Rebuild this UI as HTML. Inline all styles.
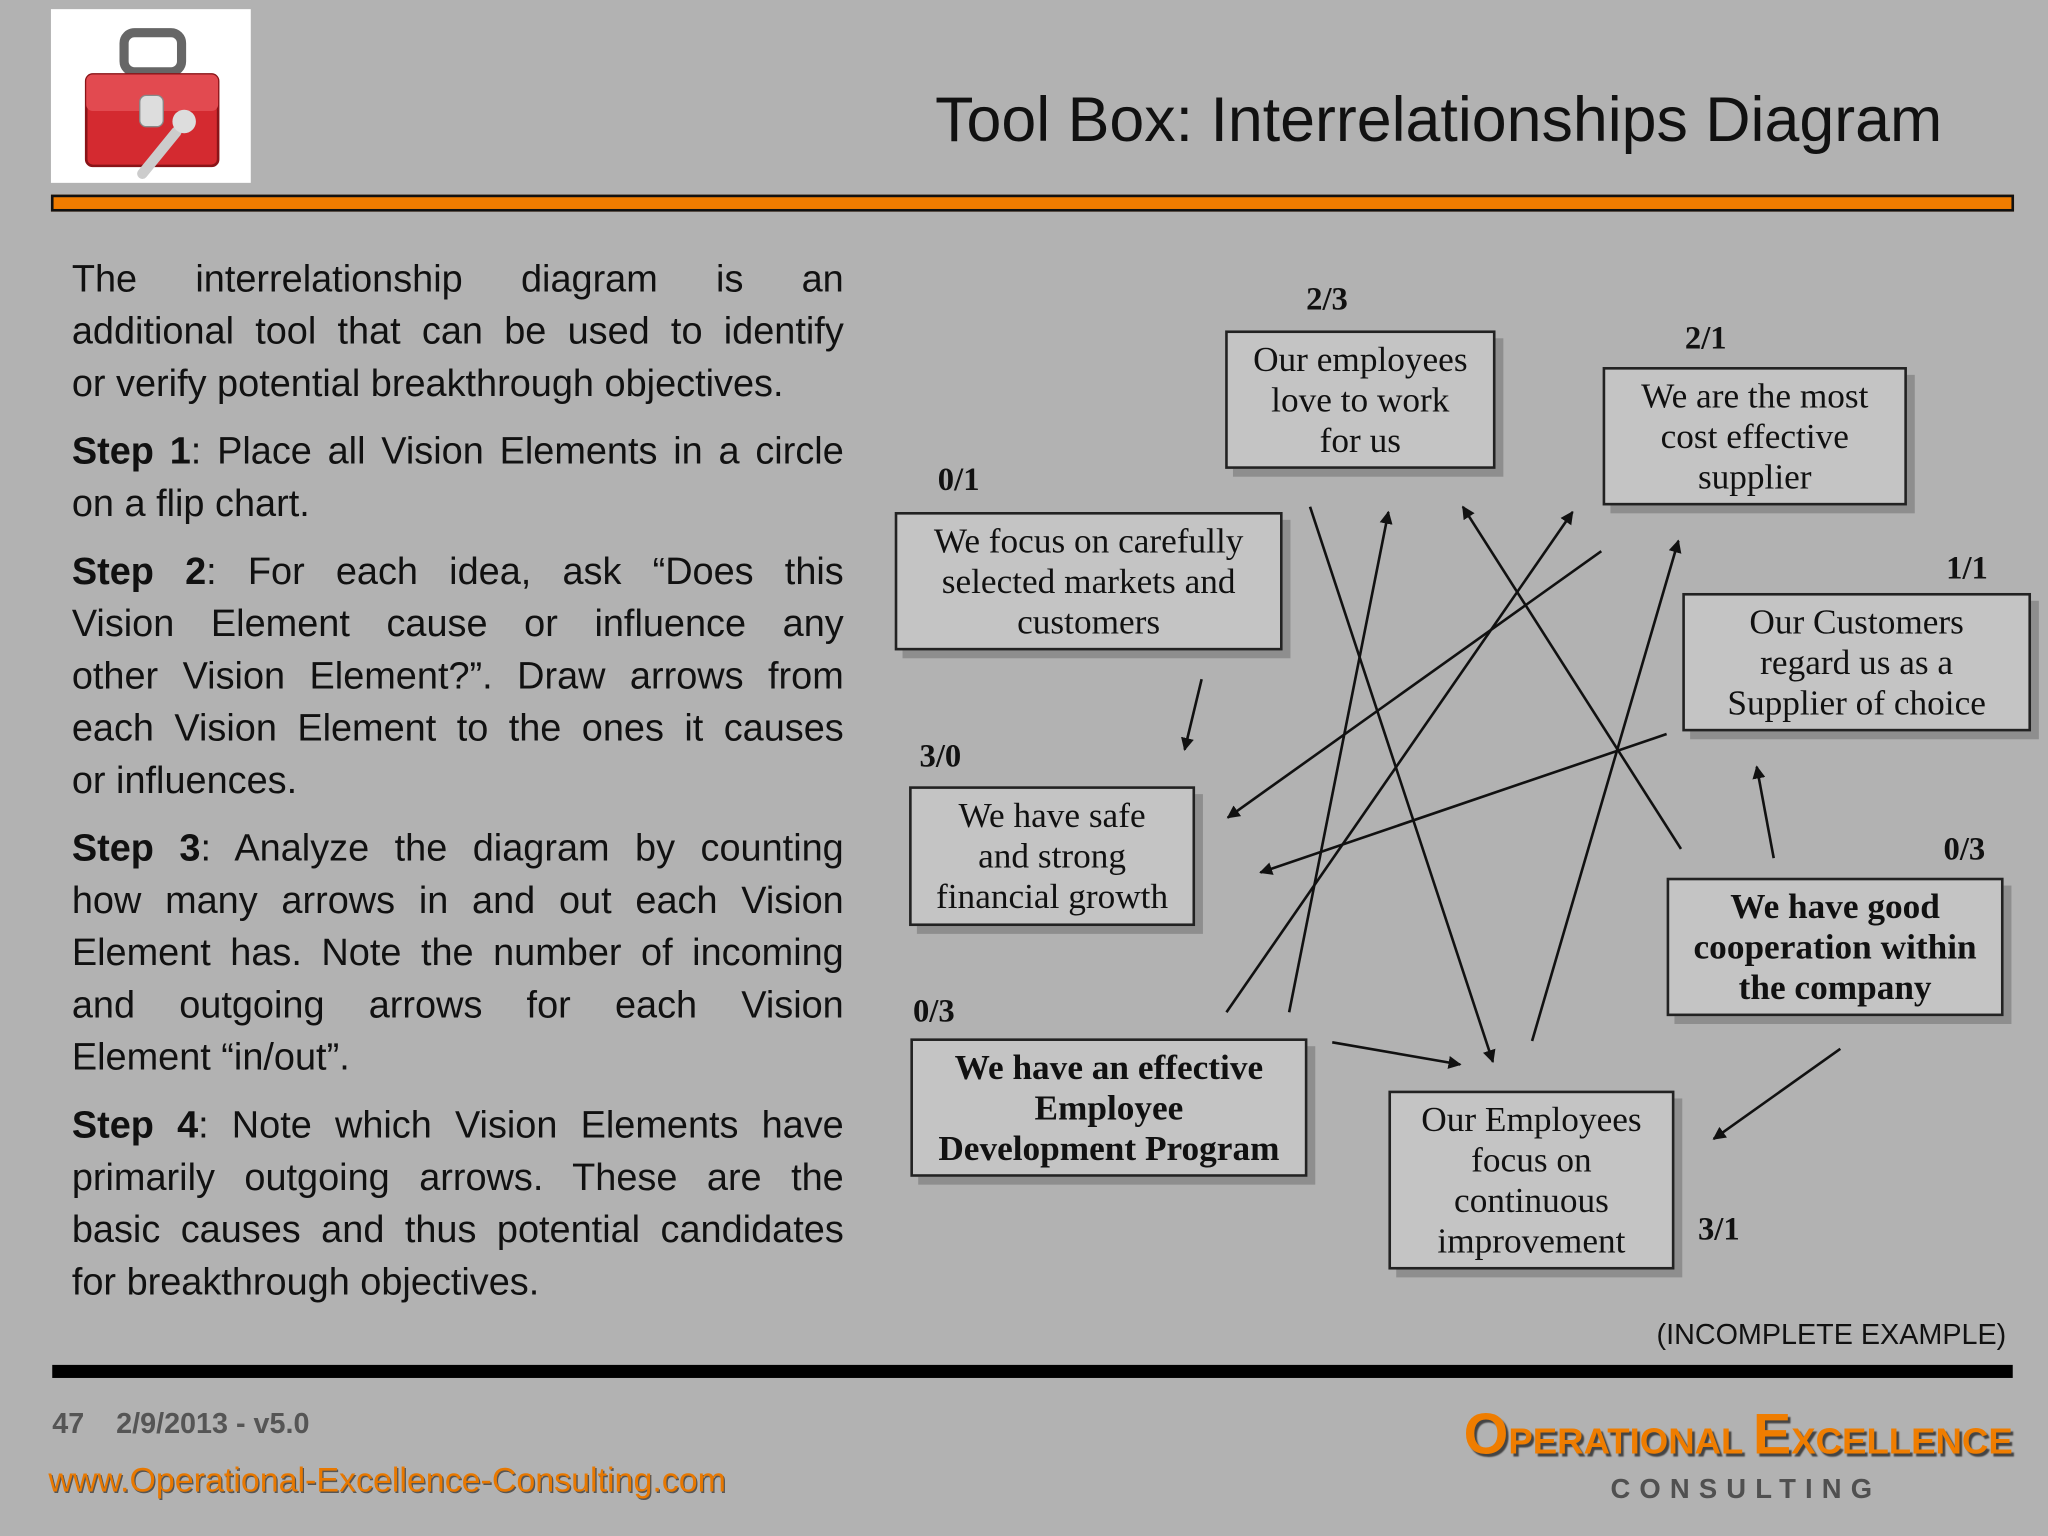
<!DOCTYPE html>
<html><head><meta charset="utf-8"><style>
html,body{margin:0;padding:0;background:#b2b2b2;width:2048px;height:1536px;overflow:hidden}
#w{position:absolute;left:0;top:0;width:1568px;height:1176px;transform:scale(1.306122);transform-origin:0 0;font-family:"Liberation Sans",sans-serif}
.abs{position:absolute}
#txt{left:55px;top:194px;width:591px;font-size:29px;line-height:40px;color:#111}
#txt p{margin:0 0 12px 0}
#txt .j{display:block;text-align:justify;text-align-last:justify;white-space:nowrap}
#txt .l{display:block;white-space:nowrap}
.box{position:absolute;background:#c4c4c4;border:2px solid #222;box-shadow:6px 6px 0 #8e8e8e;box-sizing:border-box;font-family:"Liberation Serif",serif;font-size:27px;line-height:31px;text-align:center;display:flex;align-items:center;justify-content:center;color:#111}
.b{font-weight:bold}
.lab{position:absolute;font-family:"Liberation Serif",serif;font-weight:bold;font-size:25px;color:#111}
</style></head><body><div id="w">
<div class="abs" style="left:39px;top:7px;width:153px;height:133px;background:#fff"></div>
<svg class="abs" style="left:39px;top:7px" width="153" height="133" viewBox="0 0 153 133">
<rect x="56" y="18" width="44" height="30" rx="8" fill="none" stroke="#666" stroke-width="7"/>
<rect x="27" y="50" width="101" height="70" rx="5" fill="#d42a30" stroke="#8a1418" stroke-width="2"/>
<rect x="27" y="50" width="101" height="28" rx="5" fill="#e24a50"/>
<rect x="68" y="66" width="18" height="24" rx="5" fill="#ddd" stroke="#888"/>
<line x1="96" y1="94" x2="70" y2="126" stroke="#ccc" stroke-width="8" stroke-linecap="round"/>
<circle cx="102" cy="86" r="9" fill="#ddd"/>
</svg>
<div class="abs" style="right:81px;top:65px;font-size:48px;color:#111">Tool Box: Interrelationships Diagram</div>
<div class="abs" style="left:39px;top:149px;width:1499px;height:9px;background:#f07c00;border:2px solid #111"></div>
<div id="txt" class="abs">
<p><span class="j">The interrelationship diagram is an</span><span class="j">additional tool that can be used to identify</span><span class="l">or verify potential breakthrough objectives.</span></p>
<p><span class="j"><b>Step 1</b>: Place all Vision Elements in a circle</span><span class="l">on a flip chart.</span></p>
<p><span class="j"><b>Step 2</b>: For each idea, ask “Does this</span><span class="j">Vision Element cause or influence any</span><span class="j">other Vision Element?”. Draw arrows from</span><span class="j">each Vision Element to the ones it causes</span><span class="l">or influences.</span></p>
<p><span class="j"><b>Step 3</b>: Analyze the diagram by counting</span><span class="j">how many arrows in and out each Vision</span><span class="j">Element has. Note the number of incoming</span><span class="j">and outgoing arrows for each Vision</span><span class="l">Element “in/out”.</span></p>
<p><span class="j"><b>Step 4</b>: Note which Vision Elements have</span><span class="j">primarily outgoing arrows. These are the</span><span class="j">basic causes and thus potential candidates</span><span class="l">for breakthrough objectives.</span></p>
</div>
<svg class="abs" style="left:0;top:0" width="1568" height="1176">
<defs><marker id="a" markerWidth="10" markerHeight="10" refX="9" refY="5" orient="auto" markerUnits="userSpaceOnUse"><path d="M0,0 L10,5 L0,10 z" fill="#111"/></marker></defs>
<g stroke="#111" stroke-width="2" marker-end="url(#a)">
<line x1="920" y1="520" x2="907" y2="574"/>
<line x1="1003" y1="388" x2="1143" y2="813"/>
<line x1="987" y1="775" x2="1063" y2="392"/>
<line x1="939" y1="775" x2="1204" y2="392"/>
<line x1="1226" y1="422" x2="940" y2="626"/>
<line x1="1287" y1="650" x2="1120" y2="388"/>
<line x1="1173" y1="797" x2="1285" y2="414"/>
<line x1="1276" y1="562" x2="965" y2="668"/>
<line x1="1358" y1="657" x2="1345" y2="587"/>
<line x1="1020" y1="798" x2="1118" y2="815"/>
<line x1="1409" y1="803" x2="1312" y2="872"/>
</g></svg>
<div class="box" style="left:938px;top:253px;width:207px;height:106px">Our employees<br>love to work<br>for us</div>
<div class="lab" style="left:1000px;top:216px">2/3</div>
<div class="box" style="left:1227px;top:281px;width:233px;height:106px">We are the most<br>cost effective<br>supplier</div>
<div class="lab" style="left:1290px;top:246px">2/1</div>
<div class="box" style="left:685px;top:392px;width:297px;height:106px">We focus on carefully<br>selected markets and<br>customers</div>
<div class="lab" style="left:718px;top:354px">0/1</div>
<div class="box" style="left:1288px;top:454px;width:267px;height:106px">Our Customers<br>regard us as a<br>Supplier of choice</div>
<div class="lab" style="left:1490px;top:422px">1/1</div>
<div class="box" style="left:696px;top:602px;width:219px;height:107px">We have safe<br>and strong<br>financial growth</div>
<div class="lab" style="left:704px;top:566px">3/0</div>
<div class="box b" style="left:1276px;top:672px;width:258px;height:106px">We have good<br>cooperation within<br>the company</div>
<div class="lab" style="left:1488px;top:637px">0/3</div>
<div class="box b" style="left:697px;top:795px;width:304px;height:106px">We have an effective<br>Employee<br>Development Program</div>
<div class="lab" style="left:699px;top:761px">0/3</div>
<div class="box" style="left:1063px;top:835px;width:219px;height:137px">Our Employees<br>focus on<br>continuous<br>improvement</div>
<div class="lab" style="left:1300px;top:928px">3/1</div>
<div class="abs" style="right:32px;top:1009px;font-size:22px;color:#111">(INCOMPLETE EXAMPLE)</div>
<div class="abs" style="left:40px;top:1045px;width:1501px;height:10px;background:#000"></div>
<div class="abs" style="left:40px;top:1077px;font-size:22px;font-weight:bold;color:#555;white-space:pre">47    2/9/2013 - v5.0</div>
<div class="abs" style="left:37px;top:1118px;font-size:26px;color:#e87800;text-shadow:1px 1px 0 #555">www.Operational-Excellence-Consulting.com</div>
<div class="abs" style="right:27px;top:1074px;font-size:28px;font-weight:bold;color:#ef7d00;text-shadow:2px 2px 1px #444;white-space:nowrap"><span style="font-size:44px">O</span>PERATIONAL <span style="font-size:44px">E</span>XCELLENCE</div>
<div class="abs" style="left:1233px;top:1129px;font-size:21px;font-weight:bold;color:#505050;letter-spacing:7px">CONSULTING</div>
</div></body></html>
